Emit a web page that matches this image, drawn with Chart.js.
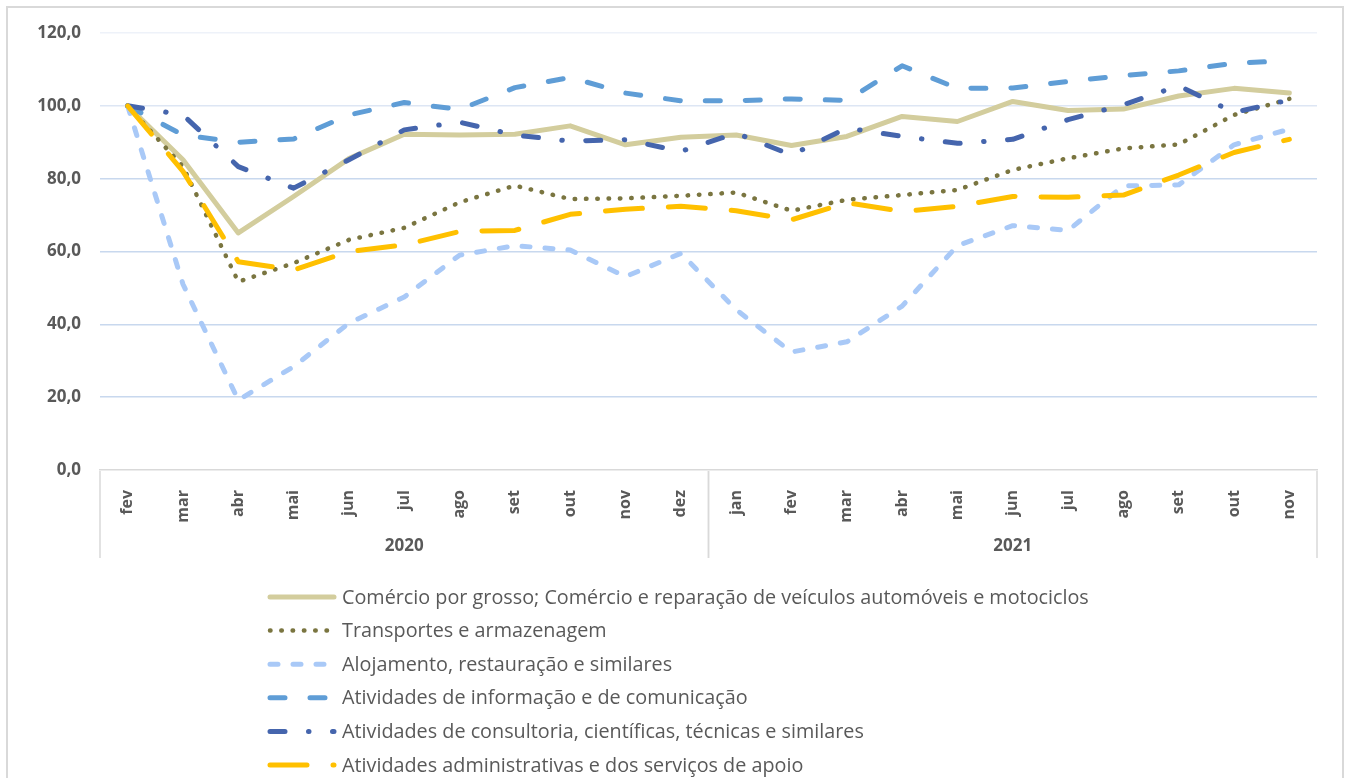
<!DOCTYPE html>
<html>
<head>
<meta charset="utf-8">
<script src="https://cdn.jsdelivr.net/npm/chart.js@4.4.0/dist/chart.umd.min.js"></script>
<style>
  html, body { margin: 0; padding: 0; background: #fff; }
  .chart_wrap { position: relative; width: 1349px; height: 778px; }
</style>
</head>
<body>
<div class="chart_wrap"><canvas id="lineCanvas"></canvas></div>
<script>
// 00. data
var months = ['fev','mar','abr','mai','jun','jul','ago','set','out','nov','dez',
              'jan','fev','mar','abr','mai','jun','jul','ago','set','out','nov'];
var years = ['2020','2020','2020','2020','2020','2020','2020','2020','2020','2020','2020',
             '2021','2021','2021','2021','2021','2021','2021','2021','2021','2021','2021'];
var yTicks = [0, 20, 40, 60, 80, 100, 120];

var seriesNames = [
  'Comércio por grosso; Comércio e reparação de veículos automóveis e motociclos',
  'Transportes e armazenagem',
  'Alojamento, restauração e similares',
  'Atividades de informação e de comunicação',
  'Atividades de consultoria, científicas, técnicas e similares',
  'Atividades administrativas e dos serviços de apoio'
];
var comercio = [100, 85.2, 65.1, 75.1, 85.5, 92.2, 92.0, 92.2, 94.5, 89.3, 91.4,
                92.0, 89.1, 91.6, 97.1, 95.7, 101.2, 98.7, 99.1, 102.7, 104.8, 103.5];
var transportes = [100, 83.3, 51.7, 56.8, 63.2, 66.5, 73.5, 78.1, 74.4, 74.6, 75.3,
                   76.2, 71.2, 74.2, 75.5, 76.9, 82.4, 85.6, 88.3, 89.4, 97.5, 101.9];
var alojamento = [100, 51.0, 19.2, 28.4, 40.3, 47.5, 59.0, 61.6, 60.4, 53.1, 59.5,
                  44.0, 32.4, 35.2, 45.0, 61.6, 67.1, 65.8, 78.0, 78.3, 89.3, 93.6];
var informacao = [100, 92.0, 90.0, 90.9, 97.5, 100.9, 99.0, 105.0, 107.8, 103.5, 101.4,
                  101.4, 101.9, 101.5, 111.0, 104.8, 104.9, 106.7, 108.3, 109.6, 111.7, 112.4];
var consultoria = [100, 97.5, 83.3, 77.4, 85.2, 93.4, 95.5, 92.0, 90.3, 90.7, 87.5,
                   92.5, 86.5, 93.9, 91.6, 89.7, 90.8, 96.2, 100.3, 105.5, 98.2, 101.6];
var administrativas = [100, 82.0, 57.2, 54.9, 60.0, 61.8, 65.5, 65.8, 70.2, 71.6, 72.4,
                       71.2, 68.7, 73.4, 71.0, 72.4, 75.1, 74.9, 75.5, 81.0, 87.2, 90.8];

var textColor = '#595959';
var fontName = '"Open Sans", "DejaVu Sans", sans-serif';

// 01. datasets (excel draws the last series on top -> reverse order)
function makeSet(idx, data, color, dash, width) {
  return {
    label: seriesNames[idx],
    data: data,
    borderColor: color,
    backgroundColor: color,
    borderWidth: width,
    borderDash: dash,
    borderCapStyle: 'round',
    borderJoinStyle: 'round',
    pointRadius: 0,
    pointHoverRadius: 0,
    tension: 0,
    fill: false,
    order: 10 - idx
  };
}

var datasets = [
  makeSet(0, comercio, '#D3CD9D', [], 5),
  makeSet(1, transportes, '#7A7540', [0.5, 10.8], 4.5),
  makeSet(2, alojamento, '#A9C9F7', [8, 15], 5),
  makeSet(3, informacao, '#5F9DD6', [15, 25], 5),
  makeSet(4, consultoria, '#4565AD', [15, 23.5, 0.5, 23.5], 5),
  makeSet(5, administrativas, '#FFC000', [37, 26], 5)
];

// 02. outer frame
var framePlugin = {
  id: 'frame',
  beforeDraw: function(chart) {
    var ctx = chart.ctx;
    ctx.save();
    ctx.strokeStyle = '#D9D9D9';
    ctx.lineWidth = 2;
    ctx.strokeRect(7, 7, chart.width - 13, chart.height + 20);
    ctx.restore();
  }
};

// 03. year groups under the month labels
var yearAxisPlugin = {
  id: 'yearAxis',
  afterDraw: function(chart) {
    var ctx = chart.ctx;
    var x = chart.scales.x;
    var step = x.getPixelForValue(1) - x.getPixelForValue(0);
    var top = chart.chartArea.bottom + 1;
    var bottom = x.bottom;

    ctx.save();
    ctx.strokeStyle = '#D9D9D9';
    ctx.lineWidth = 1.5;
    ctx.fillStyle = textColor;
    ctx.font = 'bold 17px ' + fontName;
    ctx.textAlign = 'center';
    ctx.textBaseline = 'middle';

    var start = 0;
    for (var i = 1; i <= years.length; i++) {
      if (i === years.length || years[i] !== years[start]) {
        var left = x.getPixelForValue(start) - step / 2;
        var right = x.getPixelForValue(i - 1) + step / 2;
        ctx.beginPath();
        ctx.moveTo(left, top);
        ctx.lineTo(left, bottom);
        ctx.moveTo(right, top);
        ctx.lineTo(right, bottom);
        ctx.stroke();
        ctx.fillText(years[start], (left + right) / 2, bottom - 12);
        start = i;
      }
    }
    ctx.restore();
  }
};

// 04. legend, one series per row
var legendPlugin = {
  id: 'rowLegend',
  afterDraw: function(chart) {
    var ctx = chart.ctx;
    var y0 = chart.scales.x.bottom + 39;
    ctx.save();
    ctx.font = '19.8px ' + fontName;
    ctx.textBaseline = 'middle';
    ctx.textAlign = 'left';
    chart.data.datasets.forEach(function(ds, i) {
      var y = y0 + i * 33.6;
      ctx.strokeStyle = ds.borderColor;
      ctx.lineWidth = ds.borderWidth;
      ctx.lineCap = 'round';
      ctx.setLineDash(ds.borderDash);
      ctx.beginPath();
      ctx.moveTo(270, y);
      ctx.lineTo(334, y);
      ctx.stroke();
      ctx.setLineDash([]);
      ctx.fillStyle = textColor;
      ctx.fillText(ds.label, 342, y + 1);
    });
    ctx.restore();
  }
};

// 05. chart
var context = document.getElementById('lineCanvas').getContext('2d');
var lineChart = new Chart(context, {
  type: 'line',
  data: { labels: months, datasets: datasets },
  options: {
    responsive: true,
    maintainAspectRatio: false,
    animation: false,
    layout: { padding: { top: 33, right: 32, bottom: 220, left: 10 } },
    plugins: {
      legend: { display: false },
      tooltip: { enabled: false }
    },
    scales: {
      x: {
        type: 'category',
        offset: true,
        grid: { display: false },
        border: { display: true, color: '#D9D9D9', width: 1.5 },
        ticks: {
          autoSkip: false,
          minRotation: 90,
          maxRotation: 90,
          padding: 12,
          color: textColor,
          font: { family: fontName, size: 16, weight: 'bold' }
        },
        afterFit: function(scale) { scale.height = 88; }
      },
      y: {
        min: yTicks[0],
        max: yTicks[yTicks.length - 1],
        ticks: {
          stepSize: yTicks[1] - yTicks[0],
          padding: 19,
          color: textColor,
          font: { family: fontName, size: 17, weight: 'bold' },
          callback: function(v) { return v.toFixed(1).replace('.', ','); }
        },
        grid: {
          drawTicks: false,
          lineWidth: 1.5,
          color: function(c) {
            if (c.tick.value === 0) return 'rgba(0,0,0,0)';
            if (c.tick.value === 120) return '#EEF2F9';
            if (c.tick.value === 100) return '#DDE6F4';
            return '#C8D8EE';
          }
        },
        border: { display: false },
        afterFit: function(scale) { scale.width = 90; }
      }
    }
  },
  plugins: [framePlugin, yearAxisPlugin, legendPlugin]
});
</script>
</body>
</html>
